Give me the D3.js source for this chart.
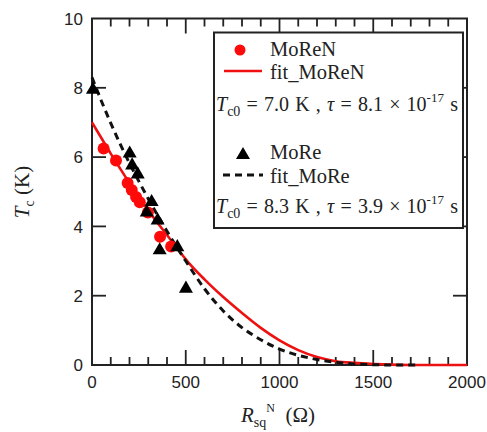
<!DOCTYPE html>
<html>
<head>
<meta charset="utf-8">
<script src="https://cdn.jsdelivr.net/npm/d3@7/dist/d3.min.js"></script>
<style>
  html, body { margin: 0; padding: 0; background: #fff; }
  svg { display: block; }
</style>
</head>
<body>
<svg id="chart" width="487" height="432"></svg>
<script>
// ---------------- data ----------------
const moReN_R  = [62, 128, 190, 212, 235, 255, 298, 363, 422];
const moReN_Tc = [6.25, 5.9, 5.25, 5.05, 4.85, 4.7, 4.4, 3.7, 3.42];

const moRe_R  = [5, 201, 214, 244, 292, 318, 350, 361, 455, 501];
const moRe_Tc = [8.0, 6.16, 5.82, 5.56, 4.46, 4.76, 4.23, 3.37, 3.46, 2.26];

const fitMoReN_R  = [0,50,100,150,200,250,300,350,400,450,500,600,700,800,900,1000,1100,1200,1300,1400,1500,1600,1700,1800,1900,2000];
const fitMoReN_Tc = [7.0,6.55,6.1,5.67,5.25,4.85,4.46,4.1,3.75,3.4,3.05,2.47,1.96,1.5,1.07,0.71,0.43,0.23,0.11,0.06,0.03,0.01,0,0,0,0];

const fitMoRe_R  = [0,50,100,150,200,250,300,350,400,450,500,600,700,800,900,1000,1100,1200,1300,1400,1500,1600,1750];
const fitMoRe_Tc = [8.3,7.62,6.98,6.38,5.82,5.3,4.8,4.32,3.86,3.42,3.0,2.2,1.56,1.08,0.73,0.46,0.28,0.16,0.08,0.03,0.01,0,0];

const xTicks = [0, 500, 1000, 1500, 2000];
const xMinorTicks = d3.range(0, 2001, 100);
const yTicks = [0, 2, 4, 6, 8, 10];

// ---------------- layout ----------------
const svg = d3.select("#chart");
const L = 92, R = 467, T = 18.5, B = 365;
const x = d3.scaleLinear().domain([0, 2000]).range([L, R]);
const y = d3.scaleLinear().domain([0, 10]).range([B, T]);

const sans = "'Liberation Sans', Arial, sans-serif";
const serif = "'Liberation Serif', 'Times New Roman', serif";

// frame
svg.append("rect").attr("x", L).attr("y", T).attr("width", R - L).attr("height", B - T)
  .attr("fill", "none").attr("stroke", "#222").attr("stroke-width", 2);

// x ticks (bottom & top, inward)
const g = svg.append("g").attr("stroke", "#222").attr("stroke-width", 1.8);
xMinorTicks.forEach(v => {
  const major = v % 500 === 0;
  const len = major ? 15 : 8;
  if (v === 0 || v === 2000) return;
  g.append("line").attr("x1", x(v)).attr("x2", x(v)).attr("y1", B).attr("y2", B - len);
  g.append("line").attr("x1", x(v)).attr("x2", x(v)).attr("y1", T).attr("y2", T + len);
});
// y ticks (left & right, inward)
yTicks.filter(v => v > 0 && v < 10).forEach(v => {
  g.append("line").attr("x1", L).attr("x2", L + 14).attr("y1", y(v)).attr("y2", y(v));
  g.append("line").attr("x1", R).attr("x2", R - 14).attr("y1", y(v)).attr("y2", y(v));
});

// tick labels
svg.append("g").selectAll("text").data(xTicks).join("text")
  .attr("x", d => x(d)).attr("y", 388)
  .attr("text-anchor", "middle")
  .attr("font-family", sans).attr("font-size", 17).attr("fill", "#222")
  .text(d => d);
svg.append("g").selectAll("text").data(yTicks).join("text")
  .attr("x", 83).attr("y", d => y(d)).attr("dy", "0.36em")
  .attr("text-anchor", "end")
  .attr("font-family", sans).attr("font-size", 17).attr("fill", "#222")
  .text(d => d);

// axis titles
const xt = svg.append("text").attr("x", 278).attr("y", 422)
  .attr("text-anchor", "middle").attr("font-family", serif).attr("font-size", 21).attr("fill", "#222");
xt.append("tspan").attr("font-style", "italic").text("R");
xt.append("tspan").attr("font-size", 14).attr("dy", 5).text("sq");
xt.append("tspan").attr("font-size", 12).attr("dy", -15).text("N");
xt.append("tspan").attr("dy", 10).text("\u00A0 (\u03A9)");

const yt = svg.append("text").attr("transform", "translate(29,192) rotate(-90)")
  .attr("text-anchor", "middle").attr("font-family", serif).attr("font-size", 21).attr("fill", "#222");
yt.append("tspan").attr("font-style", "italic").text("T");
yt.append("tspan").attr("font-size", 14).attr("dy", 5).text("c");
yt.append("tspan").attr("dy", -5).text("\u00A0(K)");

// fit curves
const line = d3.line().x(d => x(d[0])).y(d => y(d[1])).curve(d3.curveMonotoneX);
svg.append("path").datum(fitMoReN_R.map((r, i) => [r, fitMoReN_Tc[i]]))
  .attr("d", line).attr("fill", "none").attr("stroke", "#ee1111").attr("stroke-width", 2.6);
svg.append("path").datum(fitMoRe_R.map((r, i) => [r, fitMoRe_Tc[i]]))
  .attr("d", line).attr("fill", "none").attr("stroke", "#111").attr("stroke-width", 3)
  .attr("stroke-dasharray", "7,5");

// points
svg.append("g").selectAll("circle").data(moReN_R.map((r, i) => [r, moReN_Tc[i]])).join("circle")
  .attr("cx", d => x(d[0])).attr("cy", d => y(d[1])).attr("r", 6).attr("fill", "#ff0a0a");
const tri = d3.symbol().type(d3.symbolTriangle).size(85);
svg.append("g").selectAll("path").data(moRe_R.map((r, i) => [r, moRe_Tc[i]])).join("path")
  .attr("transform", d => `translate(${x(d[0])},${y(d[1]) + 2})`).attr("d", tri).attr("fill", "#000");

// legend
const lg = svg.append("g");
lg.append("rect").attr("x", 214).attr("y", 32.5).attr("width", 249).attr("height", 195.5)
  .attr("fill", "#fff").attr("stroke", "#222").attr("stroke-width", 2);
lg.append("circle").attr("cx", 240).attr("cy", 50).attr("r", 5.5).attr("fill", "#ff0a0a");
lg.append("line").attr("x1", 224).attr("x2", 262).attr("y1", 71).attr("y2", 71)
  .attr("stroke", "#ee1111").attr("stroke-width", 2.6);
lg.append("path").attr("transform", "translate(243,155)").attr("d", tri).attr("fill", "#000");
lg.append("line").attr("x1", 223).attr("x2", 263).attr("y1", 175).attr("y2", 175)
  .attr("stroke", "#111").attr("stroke-width", 3).attr("stroke-dasharray", "7,5");

const lt = (txt, yy) => lg.append("text").attr("x", 270).attr("y", yy)
  .attr("font-family", serif).attr("font-size", 20.5).attr("fill", "#222").text(txt);
lt("MoReN", 56);
lt("fit_MoReN", 79);
lt("MoRe", 159);
lt("fit_MoRe", 183);

function paramLine(yy, tc, tau) {
  const t = lg.append("text").attr("x", 216).attr("y", yy)
    .attr("font-family", serif).attr("font-size", 20).attr("fill", "#222")
    .attr("word-spacing", 1.2);
  t.append("tspan").attr("font-style", "italic").text("T");
  t.append("tspan").attr("font-size", 14).attr("dy", 5).text("c0");
  t.append("tspan").attr("dy", -5).text(` = ${tc} K , `);
  t.append("tspan").attr("font-style", "italic").text("\u03C4");
  t.append("tspan").text(` = ${tau} \u00D7 10`);
  t.append("tspan").attr("font-size", 13).attr("dy", -9).text("-17");
  t.append("tspan").attr("dy", 9).text(" s");
}
paramLine(111, "7.0", "8.1");
paramLine(213, "8.3", "3.9");
</script>
</body>
</html>
